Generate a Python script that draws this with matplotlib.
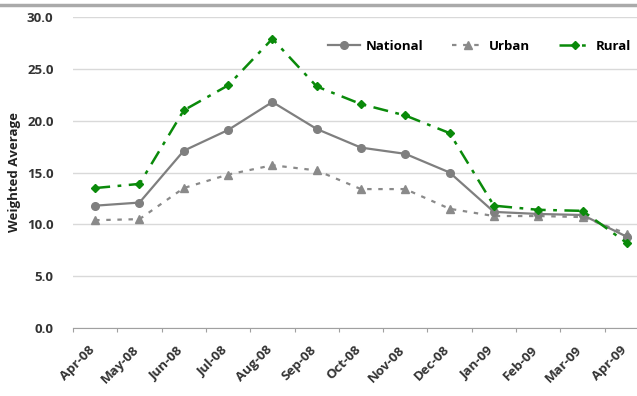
import numpy as np
import matplotlib
matplotlib.use('Agg')
from matplotlib import pyplot as plt
from matplotlib.lines import Line2D
import matplotlib.transforms as mtransforms

months = ['Apr-08', 'May-08', 'Jun-08', 'Jul-08', 'Aug-08', 'Sep-08', 'Oct-08',
          'Nov-08', 'Dec-08', 'Jan-09', 'Feb-09', 'Mar-09', 'Apr-09']
national = [11.8, 12.1, 17.1, 19.1, 21.8, 19.2, 17.4, 16.8, 15.0, 11.2, 11.0, 10.9, 8.8]
urban = [10.4, 10.5, 13.5, 14.8, 15.7, 15.2, 13.4, 13.4, 11.5, 10.8, 10.8, 10.7, 9.1]
rural = [13.5, 13.9, 21.0, 23.4, 27.9, 23.3, 21.6, 20.5, 18.8, 11.8, 11.4, 11.3, 8.2]

plt.rcParams['font.family'] = ['Open Sans', 'DejaVu Sans']

fig = plt.figure(figsize=(6.37, 3.96), dpi=100)
ax = fig.add_axes([73 / 637, 68 / 396, 576 / 637, 311 / 396])

x = np.arange(len(months))
gray = '#8a8a8a'
green = '#0a8a0a'
nat_style = dict(color='#7f7f7f', lw=1.6, marker='o', ms=5.5)
urb_style = dict(color=gray, lw=1.6, ls=(0, (2, 3)), marker='^', ms=6)
rur_style = dict(color=green, lw=1.8, ls=(0, (6, 3, 1.5, 3)), marker='D', ms=4.2)

ax.plot(x, urban, zorder=3, **urb_style)
ax.plot(x, national, zorder=4, **nat_style)
ax.plot(x, rural, zorder=5, **rur_style)

ax.set_xlim(-0.5, len(months) - 0.5)
ax.set_ylim(0, 30)
ax.set_yticks(np.arange(0, 31, 5))
ax.set_yticklabels([f'{v:.1f}' for v in np.arange(0, 31, 5)],
                   fontsize=9.5, fontweight='bold', color='#333333')
ax.yaxis.grid(True, color='#d9d9d9', lw=1)
ax.set_axisbelow(True)
ax.tick_params(axis='y', length=0, pad=14)

ax.set_xticks(np.arange(-0.5, len(months), 1))
ax.set_xticklabels([])
ax.tick_params(axis='x', which='major', length=3, color='#a0a0a0', direction='out')
ax.set_xticks(x, minor=True)
ax.set_xticklabels(months, minor=True, rotation=45, ha='right',
                   rotation_mode='anchor', fontsize=9.5, fontweight='bold', color='#333333')
ax.tick_params(axis='x', which='minor', length=0, pad=11)
shift = mtransforms.ScaledTranslation(-5 / 72, 0, fig.dpi_scale_trans)
for lbl in ax.get_xticklabels(minor=True):
    lbl.set_transform(lbl.get_transform() + shift)

for s in ['top', 'right', 'left']:
    ax.spines[s].set_visible(False)
ax.spines['bottom'].set_color('#a0a0a0')

ax.set_ylabel('Weighted Average', fontsize=9.5, fontweight='bold', color='#222222', labelpad=4)

handles = [Line2D([], [], **nat_style), Line2D([], [], **urb_style), Line2D([], [], **rur_style)]
ax.legend(handles, ['National', 'Urban', 'Rural'], loc='upper right', ncol=3,
          frameon=False, bbox_to_anchor=(0.99, 0.965), handlelength=2.4,
          columnspacing=2.2, handletextpad=0.4,
          prop={'weight': 'bold', 'size': 9.5})

fig.add_artist(Line2D([0, 1], [1 - 5 / 396, 1 - 5 / 396], color='#aaaaaa', lw=2.5,
                      transform=fig.transFigure))

fig.savefig('out.png', dpi=100)
